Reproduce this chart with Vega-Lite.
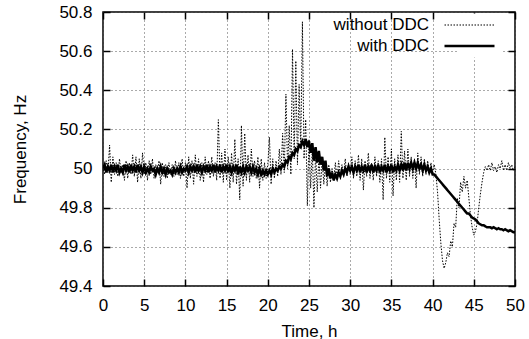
{
"$schema":"https://vega.github.io/schema/vega-lite/v6.json",
"width":412,"height":274,
"autosize":{"type":"none"},
"padding":{"left":103,"top":12,"right":14,"bottom":53},
"background":"white",
"config":{
"font":"Liberation Sans",
"view":{"stroke":"black","strokeWidth":1.5},
"axis":{"labelFont":"Liberation Sans","labelFontSize":17,"labelColor":"black","titleFont":"Liberation Sans","titleFontSize":17,"titleFontWeight":"normal","titleColor":"black","domain":false,"tickColor":"black","tickWidth":1.5,"tickSize":-7,"gridColor":"#555","gridDash":[1,3],"gridWidth":1,"gridOpacity":1},
"legend":{"labelFont":"Liberation Sans","labelFontSize":17,"labelColor":"black"}
},
"data":{"values":[
{"t":0,"without DDC":50.01,"with DDC":50.00},
{"t":0.2,"without DDC":49.97,"with DDC":50.02},
{"t":0.4,"without DDC":50.04,"with DDC":49.98},
{"t":0.6,"without DDC":49.98,"with DDC":50.01},
{"t":0.8,"without DDC":50.12,"with DDC":49.99},
{"t":1.0,"without DDC":49.93,"with DDC":50.02},
{"t":1.2,"without DDC":50.06,"with DDC":49.98},
{"t":1.4,"without DDC":49.97,"with DDC":50.01},
{"t":1.6,"without DDC":50.03,"with DDC":49.99},
{"t":1.8,"without DDC":49.96,"with DDC":50.02},
{"t":2.0,"without DDC":50.05,"with DDC":49.98},
{"t":2.2,"without DDC":49.98,"with DDC":50.00},
{"t":2.4,"without DDC":50.02,"with DDC":49.98},
{"t":2.6,"without DDC":49.94,"with DDC":50.02},
{"t":2.8,"without DDC":50.04,"with DDC":49.99},
{"t":3.0,"without DDC":49.95,"with DDC":50.01},
{"t":3.2,"without DDC":50.03,"with DDC":49.98},
{"t":3.4,"without DDC":49.97,"with DDC":50.02},
{"t":3.6,"without DDC":50.07,"with DDC":49.99},
{"t":3.8,"without DDC":49.96,"with DDC":50.01},
{"t":4.0,"without DDC":50.06,"with DDC":49.98},
{"t":4.2,"without DDC":49.93,"with DDC":50.02},
{"t":4.4,"without DDC":50.05,"with DDC":49.99},
{"t":4.6,"without DDC":49.95,"with DDC":50.01},
{"t":4.8,"without DDC":50.08,"with DDC":49.98},
{"t":5.0,"without DDC":49.97,"with DDC":50.01},
{"t":5.2,"without DDC":50.03,"with DDC":49.98},
{"t":5.4,"without DDC":49.94,"with DDC":50.00},
{"t":5.6,"without DDC":50.04,"with DDC":49.98},
{"t":5.8,"without DDC":49.97,"with DDC":50.01},
{"t":6.0,"without DDC":50.05,"with DDC":49.99},
{"t":6.2,"without DDC":49.95,"with DDC":50.00},
{"t":6.4,"without DDC":50.02,"with DDC":49.97},
{"t":6.6,"without DDC":49.98,"with DDC":50.00},
{"t":6.8,"without DDC":50.04,"with DDC":49.98},
{"t":7.0,"without DDC":49.92,"with DDC":50.01},
{"t":7.2,"without DDC":50.03,"with DDC":49.98},
{"t":7.4,"without DDC":49.96,"with DDC":50.00},
{"t":7.6,"without DDC":50.02,"with DDC":49.97},
{"t":7.8,"without DDC":49.95,"with DDC":50.00},
{"t":8.0,"without DDC":50.03,"with DDC":49.98},
{"t":8.2,"without DDC":49.97,"with DDC":49.99},
{"t":8.4,"without DDC":50.02,"with DDC":49.97},
{"t":8.6,"without DDC":49.96,"with DDC":50.00},
{"t":8.8,"without DDC":50.04,"with DDC":49.98},
{"t":9.0,"without DDC":49.97,"with DDC":50.00},
{"t":9.2,"without DDC":50.03,"with DDC":49.98},
{"t":9.4,"without DDC":49.95,"with DDC":50.01},
{"t":9.6,"without DDC":50.05,"with DDC":49.98},
{"t":9.8,"without DDC":49.96,"with DDC":50.00},
{"t":10.0,"without DDC":50.03,"with DDC":49.99},
{"t":10.2,"without DDC":49.90,"with DDC":50.01},
{"t":10.4,"without DDC":50.06,"with DDC":49.98},
{"t":10.6,"without DDC":49.95,"with DDC":50.01},
{"t":10.8,"without DDC":50.04,"with DDC":49.99},
{"t":11.0,"without DDC":49.92,"with DDC":50.01},
{"t":11.2,"without DDC":50.07,"with DDC":49.98},
{"t":11.4,"without DDC":49.96,"with DDC":50.02},
{"t":11.6,"without DDC":50.05,"with DDC":49.99},
{"t":11.8,"without DDC":49.94,"with DDC":50.01},
{"t":12.0,"without DDC":50.03,"with DDC":49.98},
{"t":12.2,"without DDC":49.93,"with DDC":50.01},
{"t":12.4,"without DDC":50.06,"with DDC":49.99},
{"t":12.6,"without DDC":49.97,"with DDC":50.02},
{"t":12.8,"without DDC":50.04,"with DDC":49.98},
{"t":13.0,"without DDC":49.95,"with DDC":50.01},
{"t":13.2,"without DDC":50.06,"with DDC":49.99},
{"t":13.4,"without DDC":49.96,"with DDC":50.02},
{"t":13.6,"without DDC":50.03,"with DDC":49.98},
{"t":13.8,"without DDC":49.94,"with DDC":50.01},
{"t":14.0,"without DDC":50.25,"with DDC":49.99},
{"t":14.2,"without DDC":49.95,"with DDC":50.02},
{"t":14.4,"without DDC":50.08,"with DDC":49.98},
{"t":14.6,"without DDC":49.93,"with DDC":50.01},
{"t":14.8,"without DDC":50.10,"with DDC":49.99},
{"t":15.0,"without DDC":49.94,"with DDC":50.02},
{"t":15.2,"without DDC":50.06,"with DDC":49.98},
{"t":15.4,"without DDC":49.90,"with DDC":50.01},
{"t":15.6,"without DDC":50.08,"with DDC":49.98},
{"t":15.8,"without DDC":49.93,"with DDC":50.01},
{"t":16.0,"without DDC":50.15,"with DDC":49.99},
{"t":16.2,"without DDC":49.92,"with DDC":50.02},
{"t":16.4,"without DDC":50.05,"with DDC":49.97},
{"t":16.6,"without DDC":49.84,"with DDC":50.01},
{"t":16.8,"without DDC":50.22,"with DDC":49.98},
{"t":17.0,"without DDC":49.91,"with DDC":50.01},
{"t":17.2,"without DDC":50.18,"with DDC":49.98},
{"t":17.4,"without DDC":49.94,"with DDC":50.01},
{"t":17.6,"without DDC":50.07,"with DDC":49.99},
{"t":17.8,"without DDC":49.93,"with DDC":50.01},
{"t":18.0,"without DDC":50.10,"with DDC":49.98},
{"t":18.2,"without DDC":49.96,"with DDC":50.01},
{"t":18.4,"without DDC":50.04,"with DDC":49.98},
{"t":18.6,"without DDC":49.95,"with DDC":50.00},
{"t":18.8,"without DDC":50.06,"with DDC":49.97},
{"t":19.0,"without DDC":49.90,"with DDC":50.00},
{"t":19.2,"without DDC":50.05,"with DDC":49.97},
{"t":19.4,"without DDC":49.94,"with DDC":49.99},
{"t":19.6,"without DDC":50.03,"with DDC":49.97},
{"t":19.8,"without DDC":49.95,"with DDC":49.99},
{"t":20.0,"without DDC":50.02,"with DDC":49.97},
{"t":20.2,"without DDC":50.16,"with DDC":49.99},
{"t":20.4,"without DDC":49.92,"with DDC":49.97},
{"t":20.6,"without DDC":50.05,"with DDC":50.00},
{"t":20.8,"without DDC":49.95,"with DDC":49.98},
{"t":21.0,"without DDC":50.04,"with DDC":50.00},
{"t":21.2,"without DDC":49.96,"with DDC":49.99},
{"t":21.4,"without DDC":50.10,"with DDC":50.01},
{"t":21.6,"without DDC":49.97,"with DDC":50.00},
{"t":21.8,"without DDC":50.18,"with DDC":50.02},
{"t":22.0,"without DDC":49.98,"with DDC":50.01},
{"t":22.2,"without DDC":50.38,"with DDC":50.04},
{"t":22.4,"without DDC":50.00,"with DDC":50.03},
{"t":22.6,"without DDC":50.22,"with DDC":50.06},
{"t":22.8,"without DDC":49.97,"with DDC":50.05},
{"t":23.0,"without DDC":50.61,"with DDC":50.08},
{"t":23.2,"without DDC":50.05,"with DDC":50.07},
{"t":23.4,"without DDC":50.55,"with DDC":50.10},
{"t":23.6,"without DDC":50.02,"with DDC":50.09},
{"t":23.8,"without DDC":50.43,"with DDC":50.12},
{"t":24.0,"without DDC":50.10,"with DDC":50.11},
{"t":24.2,"without DDC":50.75,"with DDC":50.14},
{"t":24.4,"without DDC":50.05,"with DDC":50.12},
{"t":24.6,"without DDC":50.25,"with DDC":50.15},
{"t":24.8,"without DDC":49.81,"with DDC":50.11},
{"t":25.0,"without DDC":50.15,"with DDC":50.14},
{"t":25.2,"without DDC":49.90,"with DDC":50.08},
{"t":25.4,"without DDC":50.10,"with DDC":50.13},
{"t":25.6,"without DDC":49.80,"with DDC":50.04},
{"t":25.8,"without DDC":50.08,"with DDC":50.11},
{"t":26.0,"without DDC":49.88,"with DDC":50.03},
{"t":26.2,"without DDC":50.06,"with DDC":50.09},
{"t":26.4,"without DDC":49.90,"with DDC":50.02},
{"t":26.6,"without DDC":50.05,"with DDC":50.06},
{"t":26.8,"without DDC":49.92,"with DDC":49.99},
{"t":27.0,"without DDC":50.03,"with DDC":50.04},
{"t":27.2,"without DDC":49.91,"with DDC":49.96},
{"t":27.4,"without DDC":50.02,"with DDC":50.00},
{"t":27.6,"without DDC":49.93,"with DDC":49.95},
{"t":27.8,"without DDC":50.00,"with DDC":49.98},
{"t":28.0,"without DDC":49.94,"with DDC":49.94},
{"t":28.2,"without DDC":50.03,"with DDC":49.97},
{"t":28.4,"without DDC":49.95,"with DDC":49.95},
{"t":28.6,"without DDC":50.04,"with DDC":49.98},
{"t":28.8,"without DDC":49.96,"with DDC":49.96},
{"t":29.0,"without DDC":50.02,"with DDC":49.99},
{"t":29.2,"without DDC":49.97,"with DDC":49.97},
{"t":29.4,"without DDC":50.05,"with DDC":50.00},
{"t":29.6,"without DDC":49.96,"with DDC":49.98},
{"t":29.8,"without DDC":50.03,"with DDC":50.01},
{"t":30.0,"without DDC":49.97,"with DDC":49.99},
{"t":30.2,"without DDC":50.06,"with DDC":50.01},
{"t":30.4,"without DDC":49.95,"with DDC":49.98},
{"t":30.6,"without DDC":50.04,"with DDC":50.01},
{"t":30.8,"without DDC":49.96,"with DDC":49.99},
{"t":31.0,"without DDC":50.07,"with DDC":50.02},
{"t":31.2,"without DDC":49.94,"with DDC":49.98},
{"t":31.4,"without DDC":50.05,"with DDC":50.01},
{"t":31.6,"without DDC":49.89,"with DDC":49.99},
{"t":31.8,"without DDC":50.04,"with DDC":50.02},
{"t":32.0,"without DDC":49.96,"with DDC":49.98},
{"t":32.2,"without DDC":50.08,"with DDC":50.01},
{"t":32.4,"without DDC":49.95,"with DDC":49.99},
{"t":32.6,"without DDC":50.03,"with DDC":50.02},
{"t":32.8,"without DDC":49.94,"with DDC":49.98},
{"t":33.0,"without DDC":50.06,"with DDC":50.01},
{"t":33.2,"without DDC":49.96,"with DDC":49.99},
{"t":33.4,"without DDC":50.04,"with DDC":50.02},
{"t":33.6,"without DDC":49.93,"with DDC":49.98},
{"t":33.8,"without DDC":50.05,"with DDC":50.01},
{"t":34.0,"without DDC":49.84,"with DDC":49.99},
{"t":34.2,"without DDC":50.16,"with DDC":50.02},
{"t":34.4,"without DDC":49.95,"with DDC":49.98},
{"t":34.6,"without DDC":50.06,"with DDC":50.01},
{"t":34.8,"without DDC":49.93,"with DDC":49.99},
{"t":35.0,"without DDC":50.10,"with DDC":50.02},
{"t":35.2,"without DDC":49.86,"with DDC":49.98},
{"t":35.4,"without DDC":50.05,"with DDC":50.01},
{"t":35.6,"without DDC":49.94,"with DDC":49.99},
{"t":35.8,"without DDC":50.07,"with DDC":50.02},
{"t":36.0,"without DDC":49.93,"with DDC":49.99},
{"t":36.2,"without DDC":50.19,"with DDC":50.02},
{"t":36.4,"without DDC":49.95,"with DDC":49.99},
{"t":36.6,"without DDC":50.09,"with DDC":50.03},
{"t":36.8,"without DDC":49.94,"with DDC":49.99},
{"t":37.0,"without DDC":50.10,"with DDC":50.03},
{"t":37.2,"without DDC":49.96,"with DDC":50.00},
{"t":37.4,"without DDC":50.06,"with DDC":50.03},
{"t":37.6,"without DDC":49.95,"with DDC":50.00},
{"t":37.8,"without DDC":50.05,"with DDC":50.03},
{"t":38.0,"without DDC":49.90,"with DDC":50.00},
{"t":38.2,"without DDC":50.08,"with DDC":50.03},
{"t":38.4,"without DDC":49.97,"with DDC":50.00},
{"t":38.6,"without DDC":50.06,"with DDC":50.02},
{"t":38.8,"without DDC":49.96,"with DDC":49.99},
{"t":39.0,"without DDC":50.05,"with DDC":50.02},
{"t":39.2,"without DDC":49.97,"with DDC":49.99},
{"t":39.4,"without DDC":50.04,"with DDC":50.01},
{"t":39.6,"without DDC":49.98,"with DDC":49.98},
{"t":39.8,"without DDC":50.03,"with DDC":50.00},
{"t":40.0,"without DDC":49.98,"with DDC":49.97},
{"t":40.2,"without DDC":50.02,"with DDC":49.97},
{"t":40.4,"without DDC":49.97,"with DDC":49.96},
{"t":40.6,"without DDC":49.88,"with DDC":49.95},
{"t":40.8,"without DDC":49.74,"with DDC":49.94},
{"t":41.0,"without DDC":49.62,"with DDC":49.93},
{"t":41.2,"without DDC":49.53,"with DDC":49.92},
{"t":41.4,"without DDC":49.49,"with DDC":49.91},
{"t":41.6,"without DDC":49.52,"with DDC":49.90},
{"t":41.8,"without DDC":49.57,"with DDC":49.89},
{"t":42.0,"without DDC":49.55,"with DDC":49.88},
{"t":42.2,"without DDC":49.63,"with DDC":49.87},
{"t":42.4,"without DDC":49.60,"with DDC":49.86},
{"t":42.6,"without DDC":49.72,"with DDC":49.85},
{"t":42.8,"without DDC":49.70,"with DDC":49.84},
{"t":43.0,"without DDC":49.85,"with DDC":49.83},
{"t":43.2,"without DDC":49.80,"with DDC":49.82},
{"t":43.4,"without DDC":49.93,"with DDC":49.81},
{"t":43.6,"without DDC":49.88,"with DDC":49.80},
{"t":43.8,"without DDC":49.96,"with DDC":49.79},
{"t":44.0,"without DDC":49.90,"with DDC":49.78},
{"t":44.2,"without DDC":49.94,"with DDC":49.77},
{"t":44.4,"without DDC":49.85,"with DDC":49.77},
{"t":44.6,"without DDC":49.76,"with DDC":49.76},
{"t":44.8,"without DDC":49.70,"with DDC":49.75},
{"t":45.0,"without DDC":49.66,"with DDC":49.745},
{"t":45.2,"without DDC":49.68,"with DDC":49.74},
{"t":45.4,"without DDC":49.72,"with DDC":49.73},
{"t":45.6,"without DDC":49.80,"with DDC":49.72},
{"t":45.8,"without DDC":49.87,"with DDC":49.715},
{"t":46.0,"without DDC":49.93,"with DDC":49.71},
{"t":46.2,"without DDC":49.98,"with DDC":49.71},
{"t":46.4,"without DDC":50.01,"with DDC":49.705},
{"t":46.6,"without DDC":49.99,"with DDC":49.70},
{"t":46.8,"without DDC":50.02,"with DDC":49.70},
{"t":47.0,"without DDC":49.99,"with DDC":49.70},
{"t":47.2,"without DDC":50.03,"with DDC":49.695},
{"t":47.4,"without DDC":49.99,"with DDC":49.70},
{"t":47.6,"without DDC":50.01,"with DDC":49.695},
{"t":47.8,"without DDC":49.98,"with DDC":49.69},
{"t":48.0,"without DDC":50.02,"with DDC":49.695},
{"t":48.2,"without DDC":50.00,"with DDC":49.69},
{"t":48.4,"without DDC":50.04,"with DDC":49.69},
{"t":48.6,"without DDC":49.99,"with DDC":49.685},
{"t":48.8,"without DDC":50.02,"with DDC":49.69},
{"t":49.0,"without DDC":49.99,"with DDC":49.685},
{"t":49.2,"without DDC":50.03,"with DDC":49.68},
{"t":49.4,"without DDC":50.00,"with DDC":49.685},
{"t":49.6,"without DDC":50.02,"with DDC":49.68},
{"t":49.8,"without DDC":49.99,"with DDC":49.675},
{"t":50.0,"without DDC":50.01,"with DDC":49.675}
]},
"transform":[{"fold":["without DDC","with DDC"],"as":["series","f"]}],
"layer":[
{"transform":[{"filter":"datum.series == 'without DDC'"}],
 "mark":{"type":"line","clip":true},
 "encoding":{
  "x":{"field":"t","type":"quantitative","scale":{"domain":[0,50],"nice":false},
       "axis":{"orient":"bottom","values":[0,5,10,15,20,25,30,35,40,45,50],"title":"Time, h","labelPadding":18,"titlePadding":10,"grid":true,"labelFlush":false}},
  "y":{"field":"f","type":"quantitative","scale":{"domain":[49.4,50.8],"nice":false,"zero":false},
       "axis":{"orient":"left","values":[49.4,49.6,49.8,50,50.2,50.4,50.6,50.8],"format":"~g","title":"Frequency, Hz","labelPadding":18,"titlePadding":29,"grid":true,"labelFlush":false}},
  "color":{"field":"series","type":"nominal","scale":{"domain":["without DDC","with DDC"],"range":["black","black"]},
     "legend":{"title":null,"orient":"none","legendX":355,"legendY":1.5,"symbolType":"M-5,0H5","symbolSize":100,"labelAlign":"right","labelOffset":-49,"fillColor":"white","padding":3,"rowPadding":3}},
  "strokeDash":{"field":"series","type":"nominal","scale":{"domain":["without DDC","with DDC"],"range":[[1.5,1.5],[1,0]]}},
  "strokeWidth":{"field":"series","type":"nominal","scale":{"domain":["without DDC","with DDC"],"range":[1,2.5]}}
 }},
{"transform":[{"filter":"datum.series == 'with DDC'"}],
 "mark":{"type":"line","clip":true},
 "encoding":{
  "x":{"field":"t","type":"quantitative","axis":{"orient":"top","labels":false,"title":null,"grid":false,"values":[0,5,10,15,20,25,30,35,40,45,50]}},
  "y":{"field":"f","type":"quantitative","axis":{"orient":"right","labels":false,"title":null,"grid":false,"values":[49.4,49.6,49.8,50,50.2,50.4,50.6,50.8]}},
  "color":{"field":"series","type":"nominal"},
  "strokeDash":{"field":"series","type":"nominal"},
  "strokeWidth":{"field":"series","type":"nominal"}
 }}
],
"resolve":{"axis":{"x":"independent","y":"independent"}}
}
